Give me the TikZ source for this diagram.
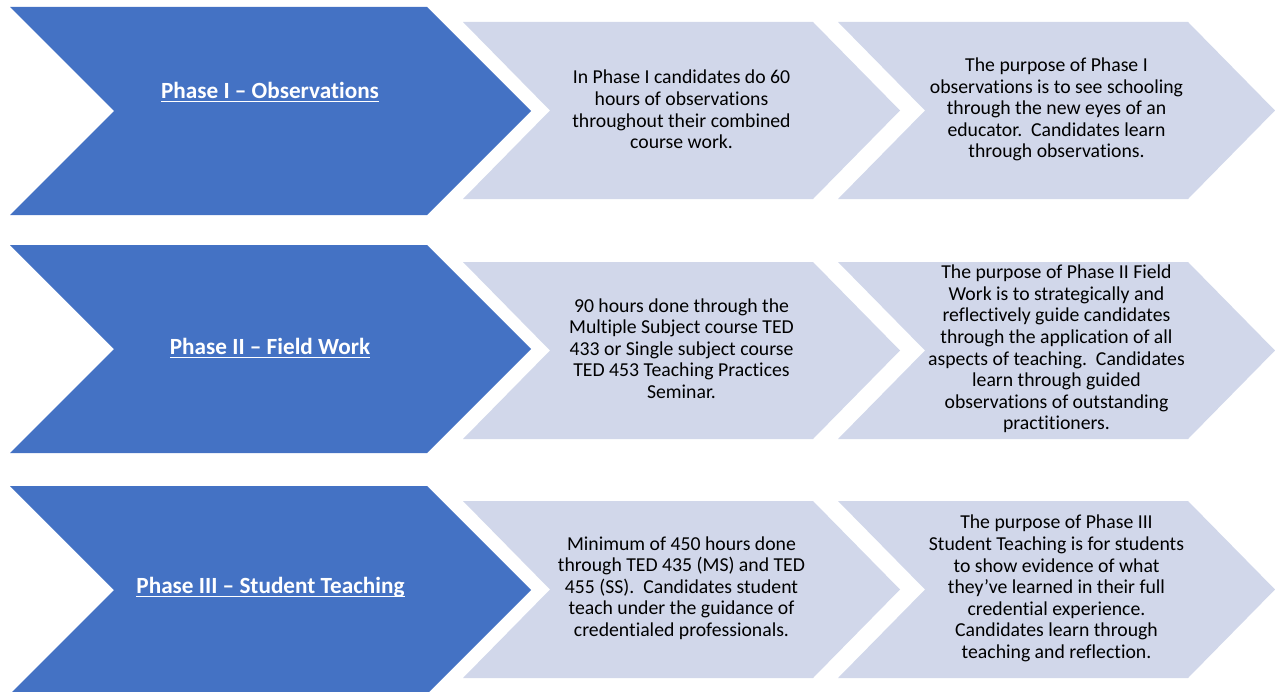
\documentclass[tikz,border=0pt]{standalone}
\usepackage{fontspec}
\setmainfont{Carlito}[Ligatures=NoCommon]
\definecolor{phaseblue}{HTML}{4472C4}
\definecolor{phaselight}{HTML}{D1D7EA}
\newcommand\phaseline[1]{\setbox0\hbox{#1}\rlap{\rule[-3.2pt]{\wd0}{1.3pt}}\box0}
\tikzset{
  every picture/.style={
    x=0.75pt, y=-0.75pt
  },
  head/.style={
    fill=phaseblue
  },
  tail/.style={
    fill=phaselight
  },
  phase title/.style={
    text=white, inner sep=0pt,
    font=\fontsize{17.4}{19}\selectfont\bfseries
  },
  phase body/.style={
    text=black, align=center, inner sep=0pt,
    font=\fontsize{14.8}{16.2}\selectfont
  }
}
\begin{document}
\begin{tikzpicture}
  \useasboundingbox (0,0) rectangle (1275,692);
  \clip (0,0) rectangle (1275,692);
  % chevrons, one row per phase
  \foreach \cb/\cl in {111/110.5, 349/350.5, 590/589.5}{
    \fill[head] (10,\cb-104) -- (427,\cb-104) -- (531,\cb) -- (427,\cb+104)
      -- (10,\cb+104) -- (114,\cb) -- cycle;
    \fill[tail] (463,\cl-88.5) -- (813,\cl-88.5) -- (900,\cl) -- (813,\cl+88.5)
      -- (463,\cl+88.5) -- (550,\cl) -- cycle;
    \fill[tail] (838,\cl-88.5) -- (1188,\cl-88.5) -- (1275,\cl) -- (1188,\cl+88.5)
      -- (838,\cl+88.5) -- (925,\cl) -- cycle;
  }
  % phase I
  \node[phase title] (t1) at (270,92) {\phaseline{Phase I – Observations}};
  \node[phase body] (d1) at (681.5,109.5) {In Phase I candidates do 60\\hours of observations\\throughout their combined\\course work.};
  \node[phase body] (g1) at (1056.5,109.5) {The purpose of Phase I\\observations is to see schooling\\through the new eyes of an\\educator.\ \ Candidates learn\\through observations.};
  % phase II
  \node[phase title] (t2) at (270,348) {\phaseline{Phase II – Field Work}};
  \node[phase body] (d2) at (681.5,348.5) {90 hours done through the\\Multiple Subject course TED\\433 or Single subject course\\TED 453 Teaching Practices\\Seminar.};
  \node[phase body] (g2) at (1056.5,349) {The purpose of Phase II Field\\Work is to strategically and\\reflectively guide candidates\\through the application of all\\aspects of teaching.\ \ Candidates\\learn through guided\\observations of outstanding\\practitioners.};
  % phase III
  \node[phase title] (t3) at (270.5,587) {\phaseline{Phase III – Student Teaching}};
  \node[phase body] (d3) at (681.5,588) {Minimum of 450 hours done\\through TED 435 (MS) and TED\\455 (SS).\ \ Candidates student\\teach under the guidance of\\credentialed professionals.};
  \node[phase body] (g3) at (1056.5,588.5) {The purpose of Phase III\\Student Teaching is for students\\to show evidence of what\\they’ve learned in their full\\credential experience.\\Candidates learn through\\teaching and reflection.};
\end{tikzpicture}
\end{document}
